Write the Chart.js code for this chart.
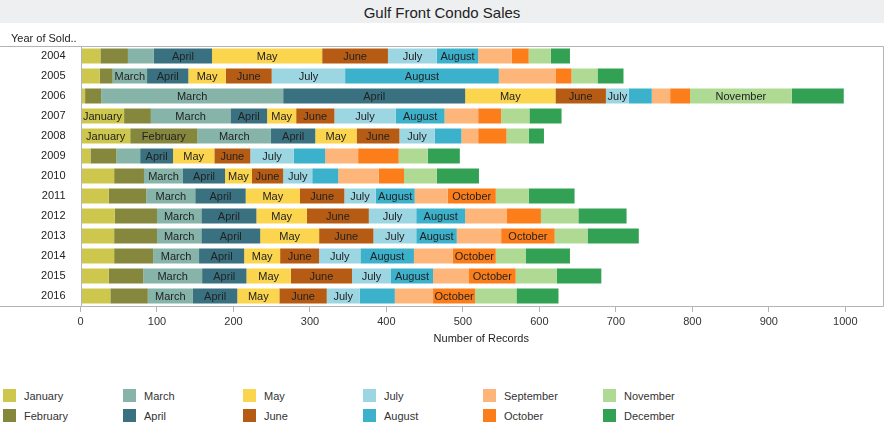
<!DOCTYPE html>
<html>
<head>
<meta charset="utf-8">
<script src="https://cdn.jsdelivr.net/npm/chart.js@4.4.1/dist/chart.umd.min.js"></script>
<style>
    body { margin: 0; width: 884px; height: 434px; background: #fff; position: relative; overflow: hidden;
           font-family: Arial, "Liberation Sans", sans-serif; color: #333; }
    #wrap { position: absolute; left: 0; top: 0; width: 884px; height: 350px; }
    #title { position: absolute; left: 0; top: 0; width: 884px; height: 23px; background: #eeeff1;
             text-align: center; font-size: 15px; line-height: 25px; color: #222; }
    #yhead { position: absolute; left: 11px; top: 32px; font-size: 11px; color: #222; }
    #legend { position: absolute; left: 3px; top: 389px; display: grid; grid-auto-flow: column;
              grid-template-rows: 20px 20px; grid-auto-columns: 120px; font-size: 11px; }
    #legend .item { display: flex; align-items: flex-start; height: 20px; }
    #legend .sw { width: 13px; height: 13px; margin-right: 8px; flex: none; }
    #legend .tx { line-height: 14px; }
</style>
</head>
<body>
<div id="wrap"><canvas id="salesChart"></canvas></div>
<div id="title">Gulf Front Condo Sales</div>
<div id="yhead">Year of Sold..</div>
<div id="legend"></div>
<script>
const years = ["2004", "2005", "2006", "2007", "2008", "2009", "2010", "2011", "2012", "2013", "2014", "2015", "2016"];
const months = ["January", "February", "March", "April", "May", "June", "July", "August", "September", "October", "November", "December"];
const monthColors = ["#cdc74d", "#84873c", "#86b4a9", "#3a7181", "#fcd54e", "#b65b13",
                     "#9dd6e3", "#3cb1cc", "#fdb57a", "#fc7e1a", "#afda93", "#33a154"];

// records per month, one value per year (2004..2016)
const january   = [26, 25, 6, 57, 65, 13, 44, 37, 45, 44, 44, 37, 39];
const february  = [36, 17, 21, 35, 88, 34, 39, 49, 55, 56, 51, 45, 49];
const march     = [34, 45, 238, 104, 96, 31, 51, 64, 58, 58, 60, 77, 59];
const april     = [76, 54, 238, 48, 58, 43, 55, 66, 72, 77, 59, 58, 58];
const may       = [144, 49, 118, 38, 54, 54, 35, 71, 66, 77, 47, 58, 55];
const june      = [86, 60, 66, 50, 56, 47, 41, 58, 81, 71, 51, 80, 62];
const july      = [64, 96, 30, 80, 46, 57, 38, 41, 62, 56, 54, 51, 43];
const august    = [54, 201, 30, 64, 35, 41, 34, 51, 64, 53, 70, 55, 46];
const september = [44, 74, 24, 44, 22, 43, 53, 43, 54, 58, 51, 47, 50];
const october   = [22, 21, 26, 30, 37, 53, 33, 63, 45, 70, 56, 61, 55];
const november  = [29, 34, 133, 37, 29, 38, 43, 43, 49, 43, 39, 54, 54];
const december  = [25, 34, 68, 42, 20, 42, 55, 60, 63, 67, 58, 58, 55];
const monthValues = [january, february, march, april, may, june, july, august, september, october, november, december];

const xTickStep = 100;
const xMax = 1048;

const labelFont = "11px Arial, 'Liberation Sans', sans-serif";

// frame lines like the Tableau pane border
const framePlugin = {
    id: "frame",
    afterDraw(chart) {
        const { ctx, chartArea: a } = chart;
        const top = Math.round(a.top) + 0.5;
        const bottom = Math.round(a.bottom) + 0.5;
        const left = Math.round(a.left) + 0.5;
        const right = chart.width - 0.5;
        ctx.save();
        ctx.strokeStyle = "#b4b4b4";
        ctx.lineWidth = 1;
        ctx.beginPath();
        ctx.moveTo(0, top); ctx.lineTo(right, top);
        ctx.moveTo(0, bottom); ctx.lineTo(right, bottom);
        ctx.moveTo(right, top); ctx.lineTo(right, bottom);
        ctx.moveTo(left, top); ctx.lineTo(left, bottom);
        ctx.stroke();
        ctx.restore();
    }
};

// month names inside the segments that are wide enough
const segmentLabels = {
    id: "segmentLabels",
    afterDatasetsDraw(chart) {
        const ctx = chart.ctx;
        ctx.save();
        ctx.font = labelFont;
        ctx.fillStyle = "#222";
        ctx.textAlign = "center";
        ctx.textBaseline = "middle";
        chart.data.datasets.forEach((ds, di) => {
            const tw = ctx.measureText(ds.label).width * 1.04;
            chart.getDatasetMeta(di).data.forEach(bar => {
                const w = Math.abs(bar.x - bar.base);
                if (tw + 1 <= w) ctx.fillText(ds.label, (bar.x + bar.base) / 2, bar.y + 1);
            });
        });
        ctx.restore();
    }
};

const ctx = document.getElementById("salesChart").getContext("2d");
new Chart(ctx, {
    type: "bar",
    data: {
        labels: years,
        datasets: months.map((m, i) => ({
            label: m,
            data: monthValues[i],
            backgroundColor: monthColors[i],
            borderWidth: 0,
            barPercentage: 0.75,
            categoryPercentage: 1
        }))
    },
    options: {
        indexAxis: "y",
        responsive: true,
        maintainAspectRatio: false,
        animation: false,
        layout: { padding: { top: 46, right: 2, left: 0, bottom: 0 } },
        plugins: { legend: { display: false }, tooltip: { enabled: false } },
        scales: {
            x: {
                stacked: true,
                min: 0,
                max: xMax,
                afterFit: s => { s.height = 44; },
                ticks: { stepSize: xTickStep, includeBounds: false, color: "#333", padding: 3,
                         callback: v => String(v),
                         font: { family: "Arial, 'Liberation Sans', sans-serif", size: 11 } },
                grid: { drawOnChartArea: false, drawTicks: true, tickLength: 6, color: "#b4b4b4" },
                border: { display: false },
                title: { display: true, text: "Number of Records", color: "#222",
                         font: { family: "Arial, 'Liberation Sans', sans-serif", size: 11 },
                         padding: { top: 0, bottom: 4 } }
            },
            y: {
                stacked: true,
                afterFit: s => { s.width = 80.5; },
                grid: { display: false },
                border: { display: false },
                ticks: { color: "#222", padding: 7,
                         font: { family: "Arial, 'Liberation Sans', sans-serif", size: 11 } }
            }
        }
    },
    plugins: [framePlugin, segmentLabels]
});

const legend = document.getElementById("legend");
months.forEach((m, i) => {
    const item = document.createElement("div");
    item.className = "item";
    item.innerHTML = '<span class="sw" style="background:' + monthColors[i] + '"></span><span class="tx">' + m + "</span>";
    legend.appendChild(item);
});
</script>
</body>
</html>
